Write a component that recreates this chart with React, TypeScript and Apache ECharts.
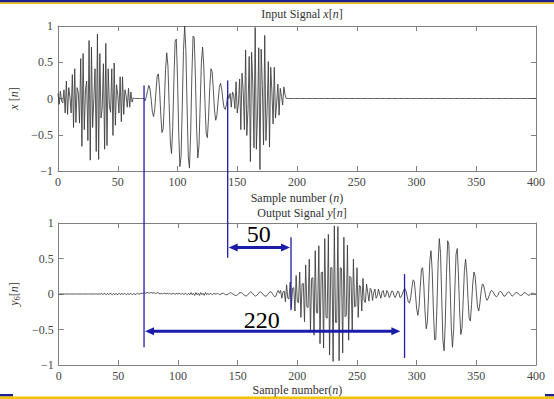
import React, { useEffect, useRef } from "react";
import * as echarts from "echarts";

// ---------- data ----------
// Input x[n]: three windowed bursts, zero elsewhere (n = 0..400)
const inputA = [
  0.07, -0.08, 0.1, -0.04, -0.06, 0.12, -0.2, 0.24, -0.22, 0.15,
  0.02, -0.2, 0.33, -0.4, 0.41, -0.33, 0.15, 0.08, -0.34, 0.55,
  -0.66, 0.62, -0.43, 0.12, 0.24, -0.58, 0.8, -0.85, 0.71, -0.4,
  0.0, 0.41, -0.73, 0.89, -0.84, 0.62, -0.27, -0.13, 0.48, -0.7,
  0.76, -0.65, 0.41, -0.1, -0.19, 0.41, -0.51, 0.49, -0.37, 0.19,
  0.05, -0.2, 0.3, -0.32, 0.3, -0.22, 0.12, 0.04, -0.12, 0.14,
  -0.12, 0.09, -0.05, 0.01,
]; // n = 0..63
const inputB = [
  0.0, -0.03, 0.03, 0.11, 0.18, 0.13, -0.02, -0.19, -0.25, -0.14,
  0.1, 0.31, 0.34, 0.13, -0.22, -0.47, -0.42, -0.06, 0.4, 0.63,
  0.45, -0.07, -0.6, -0.76, -0.4, 0.26, 0.79, 0.82, 0.28, -0.47,
  -0.94, -0.79, -0.1, 0.66, 1.0, 0.67, -0.1, -0.8, -0.96, -0.49,
  0.3, 0.86, 0.84, 0.28, -0.43, -0.82, -0.65, -0.08, 0.5, 0.71,
  0.45, -0.07, -0.48, -0.54, -0.26, 0.15, 0.41, 0.37, 0.12, -0.17,
  -0.3, -0.23, -0.03, 0.15, 0.21, 0.13, -0.02, -0.13, -0.15, -0.08, 0.05,
]; // n = 72..142
const inputC = [
  0.0, 0.07, -0.12, 0.09, 0.05, -0.14, 0.23, -0.2, -0.06, 0.27,
  -0.43, 0.35, 0.1, -0.43, 0.67, -0.51, -0.15, 0.58, -0.87, 0.64,
  0.2, -0.68, 0.98, -0.7, -0.2, 0.7, -0.98, 0.68, 0.18, -0.64,
  0.87, -0.58, -0.15, 0.51, -0.67, 0.43, 0.1, -0.35, 0.43, -0.27,
  -0.06, 0.2, -0.23, 0.14, 0.03, -0.09, 0.16, 0.05, 0.0,
]; // n = 143..191

// Output y6[n]
const outputRipple = [
  0.01, -0.01, 0.01, 0.0, -0.01, 0.01, -0.01, 0.01, 0.0, -0.01,
  0.01, -0.01, 0.01, -0.01, 0.0, 0.01, -0.01, 0.01, -0.01, 0.01,
  0.0, -0.01, 0.01, -0.01, 0.01, 0.0, -0.01, 0.01, -0.01, 0.0,
  0.01, 0.0, 0.0, 0.01, 0.01, 0.01, 0.02, 0.01, 0.02, 0.02,
  0.01, 0.02, 0.02, 0.01, 0.02, 0.01, 0.01, 0.02, 0.01, 0.0,
  0.01, 0.0, 0.01, 0.01, 0.0, 0.01, 0.0, 0.01, 0.0, 0.0,
  0.01, 0.0, 0.0, 0.01, 0.0, 0.01, 0.0, 0.0, 0.01, -0.01,
  0.01, 0.0, -0.01, 0.01, -0.01, 0.02, -0.01, 0.01, -0.02, 0.02,
  -0.01, 0.01, -0.02, 0.02, -0.01, 0.01, -0.02, 0.02, -0.01, 0.01,
  -0.01, 0.01, 0.0, -0.01, 0.01, 0.0, 0.0, 0.01, 0.0, -0.01,
  0.0, 0.01, 0.01, 0.0, -0.01, -0.01, 0.0, 0.01, 0.02, 0.01,
  0.0, -0.01, -0.02, -0.02, -0.01, 0.01, 0.02, 0.02, 0.01, -0.01,
  -0.02, -0.03, -0.02, 0.0, 0.02, 0.03, 0.02, 0.0, -0.02, -0.03,
  -0.02, 0.0, 0.02, 0.03, 0.02, 0.0, -0.02, -0.03, -0.03, -0.01,
  0.01, 0.03, 0.03, 0.01, -0.02, -0.04, -0.03, 0.02, 0.05, 0.01,
]; // n = 36..185
const outputFast = [
  0.05, -0.06, 0.03, 0.04, -0.11, 0.13, -0.06, -0.07, 0.17, -0.19,
  0.08, 0.09, -0.24, 0.26, -0.11, -0.12, 0.31, -0.33, 0.14, 0.15,
  -0.39, 0.41, -0.18, -0.19, 0.49, -0.51, 0.22, 0.23, -0.58, 0.61,
  -0.26, -0.27, 0.68, -0.7, 0.3, 0.31, -0.76, 0.78, -0.33, -0.34,
  0.84, -0.86, 0.37, 0.37, -0.95, 0.96, -0.4, -0.4, 0.95, -0.94,
  0.37, 0.36, -0.83, 0.8, -0.32, -0.3, 0.69, -0.65, 0.25, 0.23,
  -0.52, 0.49, -0.18, -0.17, 0.37, -0.33, 0.12, 0.11, -0.24, 0.22,
  -0.1, -0.12, 0.14, 0.02, -0.1, 0.08, 0.06, -0.09, 0.02, 0.07,
  -0.06, -0.03, 0.07, 0.0, -0.06, 0.03, 0.05, -0.04, -0.03, 0.05,
  0.02, -0.05, -0.02, 0.04, 0.04, -0.02, -0.05, -0.01, 0.04, 0.03,
]; // n = 186..285
const outputSlow = [
  -0.05, -0.04, 0.0, 0.05, 0.08, 0.05, -0.03, -0.11, -0.13, -0.05,
  0.09, 0.2, 0.18, 0.0, -0.21, -0.3, -0.18, 0.1, 0.35, 0.37,
  0.12, -0.25, -0.49, -0.39, 0.01, 0.46, 0.61, 0.33, -0.21, -0.64,
  -0.64, -0.17, 0.45, 0.78, 0.57, -0.05, -0.66, -0.8, -0.39, 0.29,
  0.75, 0.69, 0.15, -0.47, -0.75, -0.5, 0.07, 0.56, 0.64, 0.28,
  -0.24, -0.57, -0.48, -0.08, 0.33, 0.49, 0.3, -0.06, -0.35, -0.38,
  -0.15, 0.15, 0.31, 0.25, 0.03, -0.18, -0.24, -0.13, 0.03, 0.14,
  0.13, 0.05, -0.05, -0.09, -0.06, -0.01, 0.04, 0.05, 0.03,
]; // n = 286..364
const outputTail = [
  0.0, -0.03, -0.04, -0.02, 0.02, 0.04, 0.03, 0.0, -0.03, -0.03,
  -0.01, 0.02, 0.03, 0.02, -0.01, -0.03, -0.02, 0.0, 0.02, 0.02,
  0.01, -0.01, -0.02, -0.02, 0.0, 0.02, 0.02, 0.0, -0.01, -0.02,
  -0.01, 0.01, 0.01, 0.01, 0.0, 0.0,
]; // n = 365..400

const inputSegments = [
  { start: 0, values: inputA },
  { start: 72, values: inputB },
  { start: 143, values: inputC },
];
const outputSegments = [
  { start: 36, values: outputRipple },
  { start: 186, values: outputFast },
  { start: 286, values: outputSlow },
  { start: 365, values: outputTail },
];

const sampleMin = 0;
const sampleMax = 400;

// delay annotation (sample positions)
const delayMarks = [72, 142, 195, 290];
const delayLabels = ["50", "220"];

function buildSeries(segments: { start: number; values: number[] }[]) {
  const out: [number, number][] = [];
  for (let n = sampleMin; n <= sampleMax; n++) {
    let v = 0;
    for (const s of segments) {
      if (n >= s.start && n < s.start + s.values.length) v = s.values[n - s.start];
    }
    out.push([n, v]);
  }
  return out;
}

const FONT = "Liberation Serif";
const BIGFONT = "Times New Roman";
const AXIS = "#808080";
const LABEL = "#444";
const BLUE = "#1c1caa";

const italicRich = {
  i: { fontStyle: "italic", fontFamily: FONT, fontSize: 12, color: "#333", lineHeight: 14 },
  t: { fontFamily: FONT, fontSize: 12, color: "#333", lineHeight: 14 },
  s: { fontFamily: FONT, fontSize: 8, color: "#333", lineHeight: 6, verticalAlign: "bottom" },
};

function xAxisDef(grid: number, bottom: boolean, name?: string, gap?: number) {
  return {
    type: "value",
    gridIndex: grid,
    position: bottom ? "bottom" : "top",
    min: sampleMin,
    max: sampleMax,
    interval: 50,
    name: name,
    nameLocation: "middle",
    nameGap: gap,
    nameTextStyle: { fontFamily: FONT, fontSize: 12, color: "#333", rich: italicRich },
    axisLine: { show: true, onZero: false, lineStyle: { color: AXIS, width: 1 } },
    axisTick: { show: true, inside: true, length: 5, lineStyle: { color: AXIS } },
    axisLabel: { show: bottom, color: LABEL, fontFamily: FONT, fontSize: 12, margin: 5 },
    splitLine: { show: false },
  };
}

function yAxisDef(grid: number, left: boolean, name?: string) {
  return {
    type: "value",
    gridIndex: grid,
    position: left ? "left" : "right",
    min: -1,
    max: 1,
    interval: 0.5,
    name: name,
    nameLocation: "middle",
    nameGap: 30,
    nameTextStyle: { fontFamily: FONT, fontSize: 12, color: "#333", rich: italicRich },
    axisLine: { show: true, onZero: false, lineStyle: { color: AXIS, width: 1 } },
    axisTick: { show: true, inside: true, length: 5, lineStyle: { color: AXIS } },
    axisLabel: {
      show: left,
      color: LABEL,
      fontFamily: FONT,
      fontSize: 12,
      margin: 5,
      formatter: (v: number) => (v < 0 ? "\u2212" + Math.abs(v) : String(v)),
    },
    splitLine: { show: false },
  };
}

const baseTitles = [
  {
    text: "{t|Input Signal }{i|x}{t|[}{i|n}{t|]}",
    left: 297,
    top: 2,
    textAlign: "center",
    textStyle: { fontFamily: FONT, fontSize: 12, fontWeight: "normal", color: "#333", rich: italicRich },
  },
  {
    text: "{t|Output Signal }{i|y}{t|[}{i|n}{t|]}",
    left: 297,
    top: 201,
    textAlign: "center",
    textStyle: { fontFamily: FONT, fontSize: 12, fontWeight: "normal", color: "#333", rich: italicRich },
  },
];

export default function App() {
  const ref = useRef<HTMLDivElement>(null);

  useEffect(() => {
    if (!ref.current) return;
    const chart = echarts.init(ref.current, undefined, { renderer: "svg" });
    chart.setOption({
      animation: false,
      backgroundColor: "#ffffff",
      title: baseTitles,
      grid: [
        { left: 58, right: 18, top: 26, height: 145 },
        { left: 58, right: 18, top: 223, height: 142 },
      ],
      xAxis: [
        xAxisDef(0, true, "{t|Sample number (}{i|n}{t|)}", 20),
        xAxisDef(1, true, "{t|Sample number(}{i|n}{t|)}", 18),
        xAxisDef(0, false),
        xAxisDef(1, false),
      ],
      yAxis: [
        yAxisDef(0, true, "{i|x}{t| [}{i|n}{t|]}"),
        yAxisDef(1, true, "{i|y}{s|6}{t|[}{i|n}{t|]}"),
        yAxisDef(0, false),
        yAxisDef(1, false),
      ],
      series: [
        {
          type: "line",
          xAxisIndex: 0,
          yAxisIndex: 0,
          data: buildSeries(inputSegments),
          showSymbol: false,
          lineStyle: { color: "#3a3a3a", width: 0.85 },
        },
        {
          type: "line",
          xAxisIndex: 1,
          yAxisIndex: 1,
          data: buildSeries(outputSegments),
          showSymbol: false,
          lineStyle: { color: "#3a3a3a", width: 0.85 },
        },
      ],
    });

    const px = (v: number) => chart.convertToPixel({ xAxisIndex: 0 }, v) as unknown as number;
    const pyTop = (v: number) => chart.convertToPixel({ yAxisIndex: 0 }, v) as unknown as number;
    const pyBot = (v: number) => chart.convertToPixel({ yAxisIndex: 1 }, v) as unknown as number;

    const vline = (x: number, y1: number, y2: number) => ({
      type: "line",
      shape: { x1: x, y1, x2: x, y2 },
      style: { stroke: BLUE, lineWidth: 1.3 },
      z: 100,
    });
    const head = (tipX: number, y: number, dir: number) => ({
      type: "polygon",
      shape: { points: [[tipX, y], [tipX - dir * 9, y - 4], [tipX - dir * 9, y + 4]] },
      style: { fill: BLUE },
      z: 101,
    });
    const arrow = (xa: number, xb: number, y: number) => [
      {
        type: "line",
        shape: { x1: xa + 6, y1: y, x2: xb - 6, y2: y },
        style: { stroke: BLUE, lineWidth: 3 },
        z: 100,
      },
      head(xa, y, -1),
      head(xb, y, 1),
    ];
    const bigLabel = (text: string, x: number, y: number) => ({
      type: "text",
      x,
      y,
      style: {
        text,
        font: "24px " + BIGFONT + ", serif",
        fill: "#000",
        align: "center",
        verticalAlign: "middle",
      },
      z: 102,
    });

    const [m1, m2, m3, m4] = delayMarks;
    const xm1 = px(m1), xm2 = px(m2), xm3 = px(m3), xm4 = px(m4);
    const y50 = pyBot(0.655);
    const y220 = pyBot(-0.525);

    const graphic: any[] = [
      // frame stripes
      { type: "rect", shape: { x: 0, y: 0, width: 554, height: 2.5 }, style: { fill: "#1e1e8c" }, z: 200 },
      { type: "rect", shape: { x: 0, y: 2.5, width: 554, height: 1.5 }, style: { fill: "#f2c400" }, z: 200 },
      { type: "rect", shape: { x: 0, y: 394, width: 13, height: 2.5 }, style: { fill: "#1e1e8c" }, z: 200 },
      { type: "rect", shape: { x: 545, y: 394, width: 9, height: 2.5 }, style: { fill: "#1e1e8c" }, z: 200 },
      { type: "rect", shape: { x: 0, y: 396.5, width: 554, height: 2.5 }, style: { fill: "#f2c400" }, z: 200 },
      // markers
      vline(xm1, pyTop(0.18), pyBot(-0.75)),
      vline(xm2, pyTop(0.25), pyBot(0.51)),
      vline(xm3, pyBot(0.8), pyBot(-0.23)),
      vline(xm4, pyBot(0.28), pyBot(-0.9)),
      ...arrow(xm2 + 1, xm3 - 1, y50),
      ...arrow(xm1 + 1, px(286.5), y220),
      bigLabel(delayLabels[0], px(168), pyBot(0.845)),
      bigLabel(delayLabels[1], px(170.5), pyBot(-0.37)),
    ];
    chart.setOption({ graphic });

    return () => chart.dispose();
  }, []);

  return (
    <div
      ref={ref}
      style={{ position: "fixed", left: 0, top: 0, width: 554, height: 399, background: "#fff" }}
    />
  );
}
